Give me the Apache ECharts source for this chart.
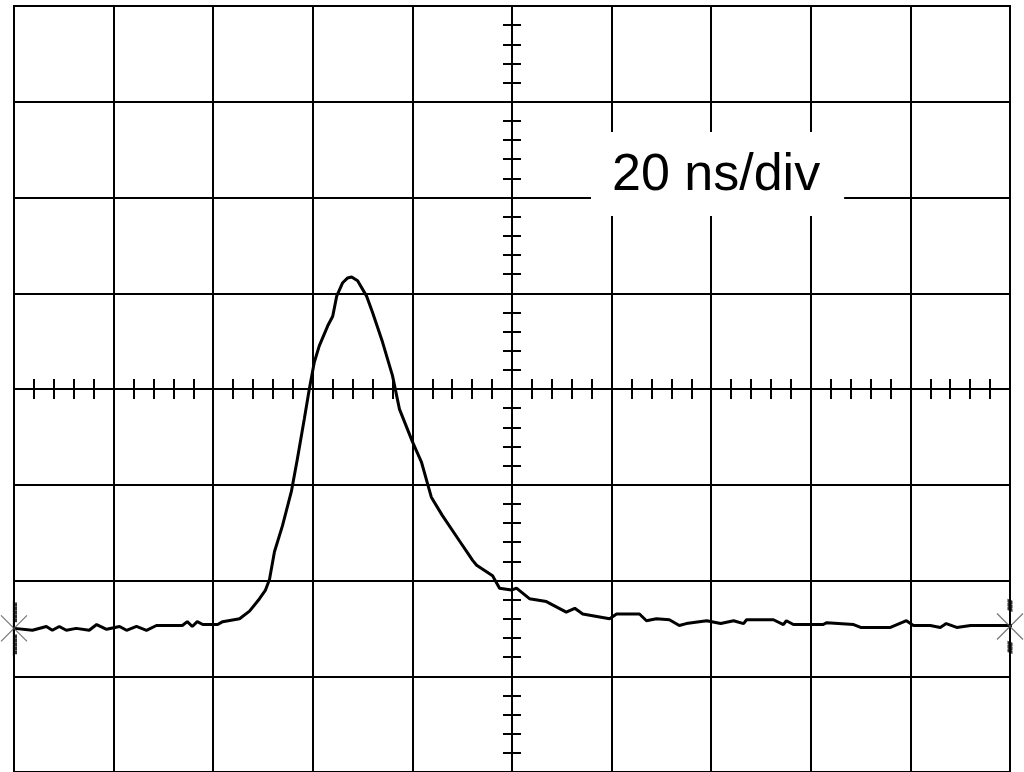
<!DOCTYPE html>
<html>
<head>
<meta charset="utf-8">
<script src="https://cdn.jsdelivr.net/npm/echarts@6/dist/echarts.min.js"></script>
<style>
html,body{margin:0;padding:0;background:#fff;}
#chart{width:1024px;height:772px;}
</style>
</head>
<body>
<div id="chart"></div>
<script>
// time in ns (20 ns/div), centre of screen = 0
const timeNs = [-99.9,-96.3,-93.5,-92.3,-90.9,-89.5,-87.5,-84.9,-83.4,-81.4,-78.8,-77.4,-75.4,-73.4,-71.4,-66.2,-65.2,-64.2,-63.2,-62.1,-59.1,-58.1,-54.7,-52.7,-50.7,-49.5,-48.7,-47.7,-46.1,-44.3,-43.1,-41.7,-40.7,-39.7,-38.7,-37.0,-36.0,-35.2,-34.0,-33.0,-32.2,-31.0,-29.2,-28.0,-26.0,-24.0,-22.6,-20.0,-18.2,-16.2,-14.0,-10.5,-7.9,-7.1,-3.9,-2.5,-0.1,0.9,3.5,6.9,10.9,12.6,14.2,19.6,21.0,25.6,27.0,29.0,31.6,33.6,35.0,39.1,41.9,44.5,46.5,47.1,52.5,54.5,55.1,56.5,62.5,63.2,68.6,70.0,76.0,79.2,80.6,84.0,86.0,87.2,89.3,92.1,99.3,102.7];
// signal in vertical divisions, centre = 0
const signalDiv = [-2.50,-2.52,-2.48,-2.52,-2.48,-2.52,-2.50,-2.52,-2.46,-2.51,-2.48,-2.52,-2.48,-2.52,-2.47,-2.47,-2.43,-2.48,-2.43,-2.46,-2.46,-2.43,-2.40,-2.32,-2.19,-2.10,-1.99,-1.70,-1.43,-1.07,-0.73,-0.31,0.00,0.28,0.45,0.66,0.76,0.97,1.11,1.16,1.17,1.13,0.97,0.80,0.49,0.14,-0.21,-0.55,-0.76,-1.13,-1.32,-1.59,-1.79,-1.84,-1.95,-2.08,-2.10,-2.08,-2.19,-2.22,-2.33,-2.29,-2.35,-2.40,-2.35,-2.35,-2.42,-2.40,-2.41,-2.47,-2.45,-2.42,-2.45,-2.42,-2.45,-2.41,-2.41,-2.46,-2.42,-2.46,-2.46,-2.44,-2.46,-2.49,-2.49,-2.42,-2.47,-2.47,-2.49,-2.45,-2.49,-2.47,-2.47,-2.47];
// ground-reference markers (time, level)
const markerTime = [-100, 100];
const markerLevel = [-2.50, -2.48];
const scaleLabel = '20 ns/div';

const xMin = -100, xMax = 100, xStep = 20;
const yMin = -4, yMax = 4, yStep = 1;

const trace = timeNs.map((t, i) => [t, signalDiv[i]]);
const markers = markerTime.map((t, i) => [t, markerLevel[i]]);

const hidden = {show: false};
function centreX(pos) {
  return {
    type: 'value', min: xMin, max: xMax, interval: xStep, position: pos,
    axisLine: {show: true, onZero: true, onZeroAxisIndex: 0, lineStyle: {color: '#000', width: 2}},
    axisTick: {show: true, length: 10, lineStyle: {color: '#000', width: 2}},
    minorTick: {show: true, splitNumber: 5, length: 10, lineStyle: {color: '#000', width: 2}},
    axisLabel: hidden, splitLine: hidden
  };
}
function centreY(pos) {
  return {
    type: 'value', min: yMin, max: yMax, interval: yStep, position: pos,
    axisLine: {show: true, onZero: true, onZeroAxisIndex: 0, lineStyle: {color: '#000', width: 2}},
    axisTick: {show: true, length: 9, lineStyle: {color: '#000', width: 2}},
    minorTick: {show: true, splitNumber: 5, length: 9, lineStyle: {color: '#000', width: 2}},
    axisLabel: hidden, splitLine: hidden
  };
}

const chart = echarts.init(document.getElementById('chart'), null, {renderer: 'canvas'});
chart.setOption({
  animation: false,
  backgroundColor: '#fff',
  title: {
    text: scaleLabel, left: 591, top: 132, padding: [14, 24, 10, 21],
    backgroundColor: '#fff',
    textStyle: {fontFamily: '"Liberation Sans", Arial, sans-serif', fontSize: 52, fontWeight: 'normal', color: '#000', lineHeight: 60}
  },
  grid: {left: 14, top: 6, width: 996, height: 768, show: true, borderColor: '#000', borderWidth: 2, containLabel: false},
  xAxis: [
    {type: 'value', min: xMin, max: xMax, interval: xStep,
     axisLine: {show: false, onZero: false}, axisTick: hidden, axisLabel: hidden,
     splitLine: {show: true, lineStyle: {color: '#000', width: 2}}},
    centreX('bottom'), centreX('top')
  ],
  yAxis: [
    {type: 'value', min: yMin, max: yMax, interval: yStep,
     axisLine: {show: false, onZero: false}, axisTick: hidden, axisLabel: hidden,
     splitLine: {show: true, lineStyle: {color: '#000', width: 2}}},
    centreY('left'), centreY('right')
  ],
  series: [
    {type: 'line', data: trace, xAxisIndex: 0, yAxisIndex: 0, showSymbol: false, clip: false,
     lineStyle: {color: '#000', width: 3}, silent: true, z: 3},
    {type: 'scatter', data: markers, xAxisIndex: 0, yAxisIndex: 0, silent: true, z: 4,
     symbol: 'path://M0,0L24,24M24,0L0,24', symbolSize: 26,
     itemStyle: {color: 'rgba(0,0,0,0)', borderColor: '#555', borderWidth: 1.2}},
    {type: 'scatter', data: [markers[0]], xAxisIndex: 0, yAxisIndex: 0, silent: true, z: 4,
     symbol: 'path://M2,0L2,56M2,4L6,4M2,8L6,8M2,12L6,12M2,16L6,16M2,20L6,20M2,36L6,36M2,40L6,40M2,44L6,44M2,48L6,48M2,52L6,52',
     symbolSize: [4, 56], symbolOffset: [1, 0],
     itemStyle: {color: 'rgba(0,0,0,0)', borderColor: '#000', borderWidth: 1}},
    {type: 'scatter', data: [markers[1]], xAxisIndex: 0, yAxisIndex: 0, silent: true, z: 4,
     symbol: 'path://M0,0L6,2L0,4L6,6L0,8L6,10M0,42L6,44L0,46L6,48L0,50L6,52',
     symbolSize: [5, 52],
     itemStyle: {color: 'rgba(0,0,0,0)', borderColor: '#000', borderWidth: 1}}
  ]
});
</script>
</body>
</html>
